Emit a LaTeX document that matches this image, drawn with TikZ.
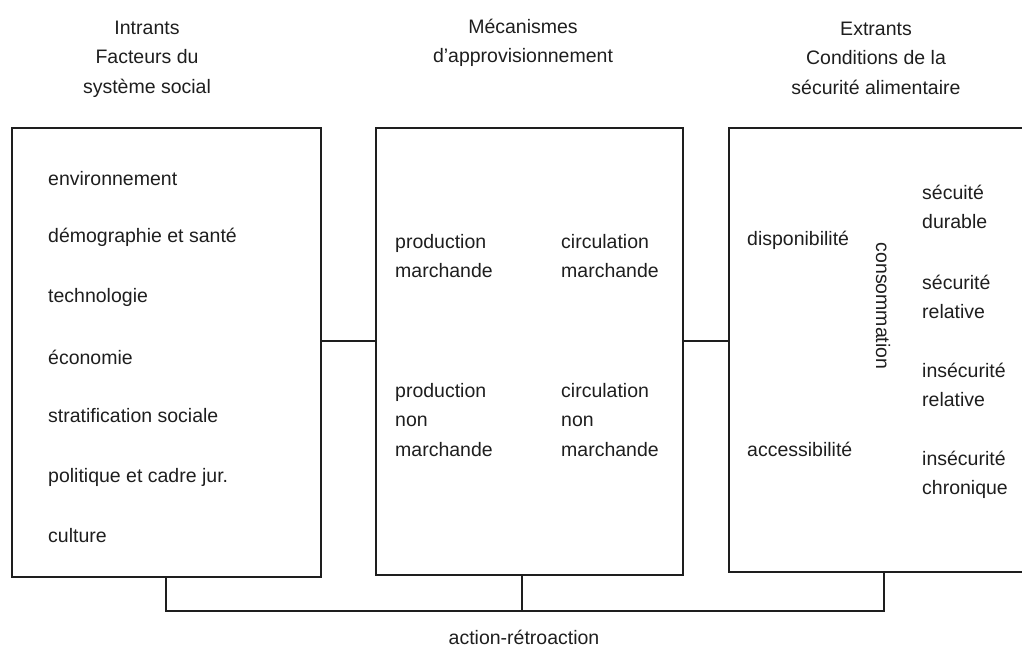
\documentclass[tikz,border=0pt]{standalone}
\usepackage{fontspec}
\setmainfont{Liberation Sans}
\usepackage{tikz}
\usetikzlibrary{positioning}
\definecolor{inkgray}{RGB}{30,30,30}

\begin{document}
\begin{tikzpicture}[
    x=1pt, y=-1pt,
    box/.style={rectangle, draw=inkgray, line width=1.4pt, inner sep=0pt},
    item/.style={anchor=west, inner sep=0pt, align=left, text=inkgray, font=\fontsize{19.5}{29.5}\selectfont},
    header/.style={inner sep=0pt, align=center, text=inkgray, font=\fontsize{19.5}{29.5}\selectfont},
    link/.style={draw=inkgray, line width=1.4pt}
]
    \useasboundingbox (0,0) rectangle (1022,650);

    % Headers
    \node[header] (hin) at (147,59) {Intrants\\Facteurs du\\système social};
    \node[header] (hmech) at (523,43) {Mécanismes\\d'approvisionnement};
    \node[header] (hout) at (876,58) {Extrants\\Conditions de la\\sécurité alimentaire};

    % Boxes
    \node[box, minimum width=309pt, minimum height=449pt] (inputs) at (166.5,352.5) {};
    \node[box, minimum width=307pt, minimum height=447pt] (mech) at (529.5,351.5) {};
    \node[box, minimum width=301pt, minimum height=444pt] (outputs) at (879.5,350) {};

    % Inputs
    \node[item] (env) at (48,179) {environnement};
    \node[item] (demo) at (48,237) {démographie et santé};
    \node[item] (tech) at (48,297) {technologie};
    \node[item] (eco) at (48,357) {économie};
    \node[item] (strat) at (48,416) {stratification sociale};
    \node[item] (pol) at (48,477) {politique et cadre jur.};
    \node[item] (cult) at (48,536) {culture};

    % Supply mechanisms
    \node[item] (prodm) at (395,256) {production\\marchande};
    \node[item] (circm) at (561,256) {circulation\\marchande};
    \node[item] (prodnm) at (395,420) {production\\non\\marchande};
    \node[item] (circnm) at (561,420) {circulation\\non\\marchande};

    % Outputs
    \node[item] (dispo) at (747,240) {disponibilité};
    \node[item] (access) at (747,449) {accessibilité};
    \node[header, rotate=-90] (conso) at (883,306) {consommation};
    \node[item] (secdur) at (922,207) {sécuité\\durable};
    \node[item] (secrel) at (922,297) {sécurité\\relative};
    \node[item] (insrel) at (922,385) {insécurité\\relative};
    \node[item] (inschr) at (922,475) {insécurité\\chronique};

    % Links between boxes
    \coordinate (mid) at (0,341);
    \draw[link] (inputs.east |- mid) -- (mech.west |- mid);
    \draw[link] (mech.east |- mid) -- (outputs.west |- mid);

    % Feedback
    \coordinate (fbL) at (166,611);
    \coordinate (fbM) at (522,611);
    \coordinate (fbR) at (884,611);
    \draw[link] (fbL |- inputs.south) -- (fbL) -- (fbR) -- (fbR |- outputs.south);
    \draw[link] (fbM |- mech.south) -- (fbM);
    \node[header] (fb) at (524,637) {action-rétroaction};
\end{tikzpicture}
\end{document}
